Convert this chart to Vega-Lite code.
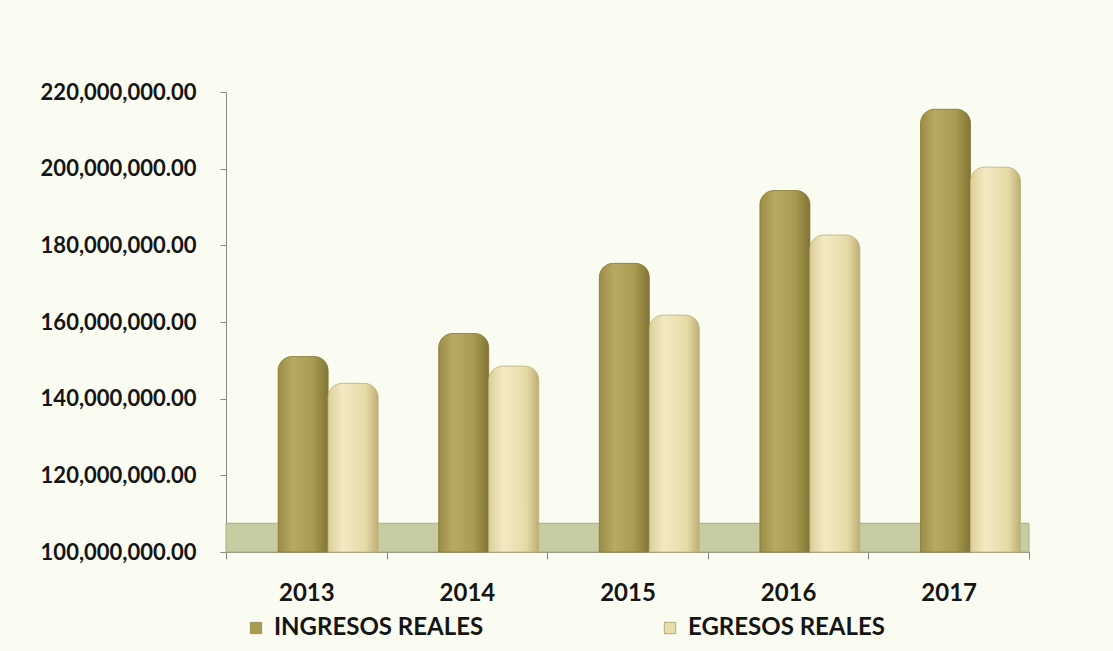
{
  "$schema": "https://vega.github.io/schema/vega-lite/v6.json",
  "autosize": "none",
  "width": 803,
  "height": 460,
  "padding": {"left": 226, "top": 92, "right": 84, "bottom": 99},
  "background": "#fbfcf1",
  "config": {
    "view": {"stroke": null},
    "font": "Lato",
    "axis": {"labelFont": "Lato", "labelFontWeight": "bold", "labelColor": "#151515", "domainColor": "#8a8a80", "tickColor": "#8a8a80", "grid": false},
    "legend": {"labelFont": "Lato", "labelFontWeight": "bold", "labelColor": "#151515"}
  },
  "datasets": {
    "bars": [
      {"anio": "2013", "serie": "INGRESOS REALES", "monto": 151000000},
      {"anio": "2013", "serie": "EGRESOS REALES", "monto": 144000000},
      {"anio": "2014", "serie": "INGRESOS REALES", "monto": 157000000},
      {"anio": "2014", "serie": "EGRESOS REALES", "monto": 148500000},
      {"anio": "2015", "serie": "INGRESOS REALES", "monto": 175300000},
      {"anio": "2015", "serie": "EGRESOS REALES", "monto": 161800000},
      {"anio": "2016", "serie": "INGRESOS REALES", "monto": 194300000},
      {"anio": "2016", "serie": "EGRESOS REALES", "monto": 182700000},
      {"anio": "2017", "serie": "INGRESOS REALES", "monto": 215500000},
      {"anio": "2017", "serie": "EGRESOS REALES", "monto": 200400000}
    ],
    "floor": [{"y": 100000000, "y2": 107500000}]
  },
  "layer": [
    {
      "data": {"name": "floor"},
      "mark": {"type": "rect", "color": "#c8cca3", "stroke": "#a9ad84", "strokeWidth": 1},
      "encoding": {
        "y": {"field": "y", "type": "quantitative", "scale": {"domain": [100000000, 220000000], "zero": false, "nice": false}},
        "y2": {"field": "y2"}
      }
    },
    {
      "data": {"name": "bars"},
      "mark": {"type": "bar", "cornerRadiusTopLeft": 14, "cornerRadiusTopRight": 14},
      "encoding": {
        "x": {
          "field": "anio", "type": "nominal", "title": null,
          "scale": {"paddingInner": 0, "paddingOuter": 0},
          "axis": {"labelAngle": 0, "labelFontSize": 24, "tickBand": "extent", "tickSize": 7, "labelPadding": 22, "domainColor": "#8a8a80"}
        },
        "xOffset": {
          "field": "serie", "type": "nominal",
          "scale": {"domain": ["INGRESOS REALES", "EGRESOS REALES"], "paddingInner": 0, "paddingOuter": 0.606, "align": 0.86}
        },
        "y": {
          "field": "monto", "type": "quantitative", "title": null,
          "scale": {"domain": [100000000, 220000000], "zero": false, "nice": false},
          "axis": {"values": [100000000, 120000000, 140000000, 160000000, 180000000, 200000000, 220000000], "format": ",.2f", "labelFontSize": 22, "tickSize": 6, "labelPadding": 24}
        },
        "y2": {"datum": 100000000},
        "color": {
          "field": "serie", "type": "nominal",
          "scale": {"domain": ["INGRESOS REALES", "EGRESOS REALES"], "range": ["#a89a50", "#e8dca8"]},
          "legend": {
            "title": null, "orient": "none", "direction": "horizontal", "columns": 2,
            "legendX": 18, "legendY": 524, "symbolType": "square", "symbolSize": 130,
            "symbolStrokeColor": "#7a6f36", "symbolStrokeWidth": 0.5,
            "labelFontSize": 24, "labelLimit": 400, "columnPadding": 174, "labelOffset": 6
          }
        }
      }
    },
    {
      "data": {"name": "bars"},
      "transform": [{"filter": "datum.serie === 'INGRESOS REALES'"}],
      "mark": {
        "type": "bar", "cornerRadiusTopLeft": 14, "cornerRadiusTopRight": 14,
        "stroke": "#8b7e3c", "strokeWidth": 0.8,
        "fill": {"gradient": "linear", "x1": 0, "y1": 0, "x2": 1, "y2": 0, "stops": [
          {"offset": 0, "color": "#9a8c46"},
          {"offset": 0.3, "color": "#b8aa62"},
          {"offset": 0.7, "color": "#a89a50"},
          {"offset": 1, "color": "#827536"}
        ]}
      },
      "encoding": {
        "x": {"field": "anio", "type": "nominal"},
        "xOffset": {"field": "serie", "type": "nominal"},
        "y": {"field": "monto", "type": "quantitative"},
        "y2": {"datum": 100000000}
      }
    },
    {
      "data": {"name": "bars"},
      "transform": [{"filter": "datum.serie === 'EGRESOS REALES'"}],
      "mark": {
        "type": "bar", "cornerRadiusTopLeft": 14, "cornerRadiusTopRight": 14,
        "stroke": "#bfb27c", "strokeWidth": 0.8,
        "fill": {"gradient": "linear", "x1": 0, "y1": 0, "x2": 1, "y2": 0, "stops": [
          {"offset": 0, "color": "#dccf98"},
          {"offset": 0.3, "color": "#f2eac4"},
          {"offset": 0.75, "color": "#e6daa6"},
          {"offset": 1, "color": "#bcae76"}
        ]}
      },
      "encoding": {
        "x": {"field": "anio", "type": "nominal"},
        "xOffset": {"field": "serie", "type": "nominal"},
        "y": {"field": "monto", "type": "quantitative"},
        "y2": {"datum": 100000000}
      }
    }
  ]
}
